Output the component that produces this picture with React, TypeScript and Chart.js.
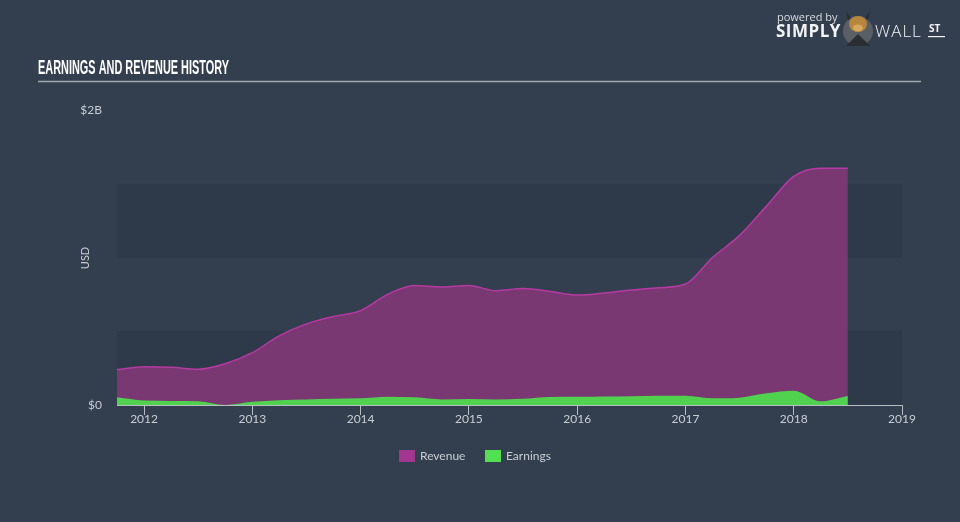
import React, { useEffect, useRef } from "react";
import { Chart, registerables } from "chart.js";

Chart.register(...registerables);

// time (decimal years)
const periods = [
  2011.75, 2012.0, 2012.25, 2012.5, 2012.75, 2013.0, 2013.25, 2013.5, 2013.75,
  2014.0, 2014.25, 2014.5, 2014.75, 2015.0, 2015.25, 2015.5, 2015.75, 2016.0,
  2016.25, 2016.5, 2016.75, 2017.0, 2017.25, 2017.5, 2017.75, 2018.0, 2018.25, 2018.5,
];
// USD billions
const revenue = [
  0.24, 0.26, 0.256, 0.243, 0.28, 0.355, 0.47, 0.55, 0.6,
  0.64, 0.75, 0.81, 0.8, 0.81, 0.775, 0.79, 0.77, 0.745,
  0.76, 0.78, 0.795, 0.82, 1.0, 1.15, 1.35, 1.55, 1.605, 1.605,
];
const earnings = [
  0.052, 0.03, 0.027, 0.025, 0.0, 0.022, 0.033, 0.038, 0.042,
  0.045, 0.056, 0.052, 0.038, 0.04, 0.038, 0.042, 0.055, 0.056,
  0.058, 0.06, 0.062, 0.063, 0.045, 0.05, 0.08, 0.097, 0.025, 0.061,
];
const xTickValues = [2012, 2013, 2014, 2015, 2016, 2017, 2018, 2019];
const yTickValues = [0, 2];
const yTickLabels = ["$0", "$2B"];
const bandRanges = [
  [0, 0.5],
  [1, 1.5],
];

const BG = "#333f4f";
const BAND = "#2e3a49";
const TEXT = "#c9ced5";

const decorPlugin = {
  id: "decor",
  beforeDraw(chart: any) {
    const { ctx, width, height } = chart;
    ctx.save();
    ctx.fillStyle = BG;
    ctx.fillRect(0, 0, width, height);
    ctx.restore();
  },
  beforeDatasetsDraw(chart: any) {
    const { ctx, chartArea, scales } = chart;
    ctx.save();
    ctx.fillStyle = BAND;
    for (const [a, b] of bandRanges) {
      const y1 = scales.y.getPixelForValue(b);
      const y0 = scales.y.getPixelForValue(a);
      ctx.fillRect(chartArea.left, y1, chartArea.right - chartArea.left, y0 - y1);
    }
    ctx.restore();
  },
  afterDraw(chart: any) {
    const { ctx } = chart;
    ctx.save();
    // title
    const title = "EARNINGS AND REVENUE HISTORY";
    ctx.font = "bold 20px 'Liberation Sans Narrow', 'Liberation Sans', sans-serif";
    const w = ctx.measureText(title).width;
    const sx = 191 / w;
    ctx.fillStyle = "#ffffff";
    ctx.textBaseline = "alphabetic";
    ctx.textAlign = "left";
    ctx.translate(38, 74);
    ctx.scale(sx, 1);
    ctx.fillText(title, 0, 0);
    ctx.setTransform(1, 0, 0, 1, 0, 0);
    // underline
    ctx.strokeStyle = "#a2a8b0";
    ctx.lineWidth = 1.5;
    ctx.beginPath();
    ctx.moveTo(38, 81.5);
    ctx.lineTo(921, 81.5);
    ctx.stroke();

    // logo
    ctx.fillStyle = "#d8dbe0";
    ctx.font = "11px 'Open Sans', sans-serif";
    ctx.textBaseline = "middle";
    ctx.fillText("powered by", 777, 18);
    ctx.fillStyle = "#f2f3f5";
    ctx.font = "bold 17px 'Open Sans', sans-serif";
    (ctx as any).letterSpacing = "0.5px";
    ctx.fillText("SIMPLY", 776, 32);
    ctx.font = "300 17px 'Open Sans', sans-serif";
    (ctx as any).letterSpacing = "1px";
    ctx.fillText("WALL", 875, 32);
    (ctx as any).letterSpacing = "0px";
    ctx.font = "bold 10px 'Open Sans', sans-serif";
    ctx.fillText("ST", 929, 29);
    ctx.fillRect(928, 36, 17, 1.2);
    // bull badge
    ctx.fillStyle = "#5a5f66";
    ctx.beginPath();
    ctx.arc(858, 31, 15, 0, Math.PI * 2);
    ctx.fill();
    ctx.fillStyle = "#2a2d31";
    ctx.beginPath();
    ctx.moveTo(846, 46);
    ctx.lineTo(858, 34);
    ctx.lineTo(870, 46);
    ctx.closePath();
    ctx.fill();
    ctx.fillStyle = "#b5863c";
    ctx.beginPath();
    ctx.ellipse(858, 24, 9, 8, 0, 0, Math.PI * 2);
    ctx.fill();
    ctx.fillStyle = "#2a2d31";
    ctx.beginPath();
    ctx.moveTo(848, 20);
    ctx.lineTo(846, 11);
    ctx.lineTo(851, 18);
    ctx.closePath();
    ctx.moveTo(868, 20);
    ctx.lineTo(870, 11);
    ctx.lineTo(865, 18);
    ctx.closePath();
    ctx.fill();
    ctx.fillStyle = "#d8a860";
    ctx.beginPath();
    ctx.ellipse(858, 28, 5, 3.5, 0, 0, Math.PI * 2);
    ctx.fill();

    // USD axis title
    ctx.fillStyle = TEXT;
    ctx.font = "11px Lato, sans-serif";
    ctx.textAlign = "center";
    ctx.textBaseline = "middle";
    ctx.translate(85, 258);
    ctx.rotate(-Math.PI / 2);
    ctx.fillText("USD", 0, 0);
    ctx.setTransform(1, 0, 0, 1, 0, 0);

    // legend
    ctx.font = "12px Lato, sans-serif";
    ctx.textAlign = "left";
    const items = [
      { label: chart.data.datasets[1].label, color: "#a3378f", x: 399 },
      { label: chart.data.datasets[0].label, color: "#52e052", x: 485 },
    ];
    for (const it of items) {
      ctx.fillStyle = it.color;
      ctx.fillRect(it.x, 450, 16, 12);
      ctx.fillStyle = TEXT;
      ctx.fillText(it.label, it.x + 21, 456.5);
    }
    ctx.restore();
  },
};

export default function App() {
  const ref = useRef<HTMLCanvasElement>(null);
  useEffect(() => {
    if (!ref.current) return;
    const chart = new Chart(ref.current, {
      type: "line",
      data: {
        datasets: [
          {
            label: "Earnings",
            data: periods.map((p, i) => ({ x: p, y: earnings[i] })),
            borderColor: "#50d24f",
            backgroundColor: "#50d24f",
            borderWidth: 0,
            pointRadius: 0,
            fill: "origin",
            cubicInterpolationMode: "monotone",
          },
          {
            label: "Revenue",
            data: periods.map((p, i) => ({ x: p, y: revenue[i] })),
            borderColor: "#b63aa4",
            backgroundColor: "#7a3873",
            borderWidth: 1.5,
            pointRadius: 0,
            fill: "origin",
            cubicInterpolationMode: "monotone",
          },
        ],
      },
      plugins: [decorPlugin],
      options: {
        animation: false,
        responsive: false,
        layout: { padding: { left: 0, right: 58, top: 110, bottom: 0 } },
        plugins: {
          legend: { display: false },
          tooltip: { enabled: false },
          title: { display: false },
        },
        scales: {
          x: {
            type: "linear",
            min: 2011.75,
            max: 2019,
            afterFit: (s: any) => {
              s.height = 117;
            },
            afterBuildTicks: (s: any) => {
              s.ticks = xTickValues.map((v) => ({ value: v }));
            },
            ticks: {
              color: TEXT,
              font: { family: "Lato, sans-serif", size: 12 },
              padding: -3,
              maxRotation: 0,
              autoSkip: false,
              callback: (v: any) => String(v),
            },
            grid: {
              drawOnChartArea: false,
              drawTicks: true,
              tickLength: 10,
              color: "#b8bec6",
            },
            border: { display: true, color: "#b8bec6", width: 1 },
          },
          y: {
            type: "linear",
            min: 0,
            max: 2,
            afterFit: (s: any) => {
              s.width = 117;
            },
            afterBuildTicks: (s: any) => {
              s.ticks = yTickValues.map((v) => ({ value: v }));
            },
            ticks: {
              color: TEXT,
              font: { family: "Lato, sans-serif", size: 12 },
              padding: 15,
              callback: (v: any) => yTickLabels[yTickValues.indexOf(Number(v))] ?? "",
            },
            grid: { display: false, drawTicks: false },
            border: { display: false },
          },
        },
      },
    } as any);
    return () => chart.destroy();
  }, []);
  return (
    <div style={{ position: "absolute", left: 0, top: 0, width: 960, height: 522 }}>
      <canvas ref={ref} width={960} height={522} />
    </div>
  );
}
